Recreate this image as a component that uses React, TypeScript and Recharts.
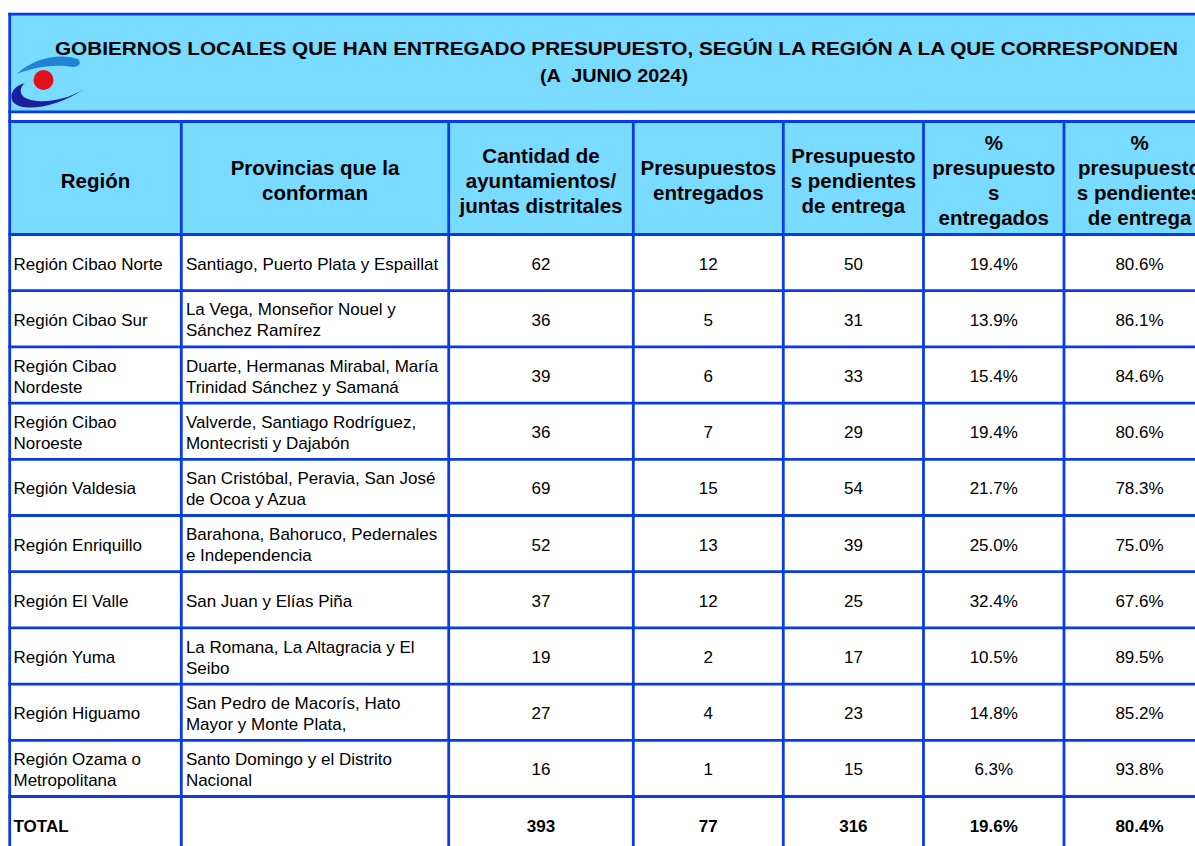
import React from 'react';
import { Surface, Layer, Rectangle, Text } from 'recharts';

// ---------- DATA ----------
const titleLines = [
  'GOBIERNOS LOCALES QUE HAN ENTREGADO PRESUPUESTO, SEGÚN LA REGIÓN A LA QUE CORRESPONDEN',
  '(A  JUNIO 2024)',
];

const headerLabels = [
  ['Región'],
  ['Provincias que la', 'conforman'],
  ['Cantidad de', 'ayuntamientos/', 'juntas distritales'],
  ['Presupuestos', 'entregados'],
  ['Presupuesto', 's pendientes', 'de entrega'],
  ['%', 'presupuesto', 's', 'entregados'],
  ['%', 'presupuesto', 's pendientes', 'de entrega'],
];

const regiones = [
  'Región Cibao Norte',
  'Región Cibao Sur',
  'Región Cibao Nordeste',
  'Región Cibao Noroeste',
  'Región Valdesia',
  'Región Enriquillo',
  'Región El Valle',
  'Región Yuma',
  'Región Higuamo',
  'Región Ozama o Metropolitana',
];

const provincias = [
  'Santiago, Puerto Plata y Espaillat',
  'La Vega, Monseñor Nouel y Sánchez Ramírez',
  'Duarte, Hermanas Mirabal, María Trinidad Sánchez y Samaná',
  'Valverde, Santiago Rodríguez, Montecristi y Dajabón',
  'San Cristóbal, Peravia, San José de Ocoa y Azua',
  'Barahona, Bahoruco, Pedernales e Independencia',
  'San Juan y Elías Piña',
  'La Romana, La Altagracia y El Seibo',
  'San Pedro de Macorís, Hato Mayor y Monte Plata,',
  'Santo Domingo y el Distrito Nacional',
];

const cantidad = [62, 36, 39, 36, 69, 52, 37, 19, 27, 16];
const entregados = [12, 5, 6, 7, 15, 13, 12, 2, 4, 1];
const pendientes = [50, 31, 33, 29, 54, 39, 25, 17, 23, 15];
const pctEntregados = [19.4, 13.9, 15.4, 19.4, 21.7, 25.0, 32.4, 10.5, 14.8, 6.3];
const pctPendientes = [80.6, 86.1, 84.6, 80.6, 78.3, 75.0, 67.6, 89.5, 85.2, 93.8];

const totalLabel = 'TOTAL';
const totalCantidad = 393;
const totalEntregados = 77;
const totalPendientes = 316;
const totalPctEntregados = 19.6;
const totalPctPendientes = 80.4;

// ---------- LAYOUT / STYLE ----------
const W = 1195;
const H = 846;
const FONT = '"Liberation Sans", Arial, Helvetica, sans-serif';
const BLUE = '#0a3ce6';
const LIGHT = '#78dbff';
const LW = 2.8;

const colEdges = [9.7, 181.3, 448.7, 633.3, 783.3, 923.5, 1064, 1215];
const titleTop = 14.2;
const titleBottom = 111.9;
const headerTop = 121.5;
const headerBottom = 234.5;
const rowH = 56.2;

const pct = (v: number) => `${v.toFixed(1)}%`;

let measureCtx: CanvasRenderingContext2D | null = null;
const measure = (s: string, size: number, weight: number) => {
  if (!measureCtx) {
    const c = document.createElement('canvas');
    measureCtx = c.getContext('2d');
  }
  if (!measureCtx) return s.length * size * 0.5;
  measureCtx.font = `${weight} ${size}px "Liberation Sans", Arial, sans-serif`;
  return measureCtx.measureText(s).width;
};

const wrap = (s: string, width: number | undefined, size: number, weight: number) => {
  if (!width) return [s];
  const words = s.split(' ');
  const lines: string[] = [];
  let cur = '';
  words.forEach((w) => {
    const trial = cur ? `${cur} ${w}` : w;
    if (cur && measure(trial, size, weight) > width) {
      lines.push(cur);
      cur = w;
    } else {
      cur = trial;
    }
  });
  if (cur) lines.push(cur);
  return lines;
};

const MultiLine = ({
  lines, x, cy, lh, size, weight, anchor,
}: { lines: string[]; x: number; cy: number; lh: number; size: number; weight: number; anchor: 'start' | 'middle' }) => (
  <Layer>
    {lines.map((ln, i) => (
      <Text
        key={i}
        x={x}
        y={cy + (i - (lines.length - 1) / 2) * lh + size * 0.37}
        textAnchor={anchor}
        fontSize={size}
        fontFamily={FONT}
        fontWeight={weight}
        fill="#000"
        style={{ whiteSpace: 'pre' }}
      >
        {ln}
      </Text>
    ))}
  </Layer>
);

const Logo = () => (
  <Layer>
    <path
      d="M17,74 C30,60 58,52 78,59 C82,63 79,67 73,67 C56,64 36,66 17,74 Z"
      fill="#1f84d8"
    />
    <path
      d="M84,89 C62,103 34,104 24,97 C19,93 20,87 25,83 C13,86 8,96 14,103 C24,112 56,108 84,89 Z"
      fill="#1b1f99"
    />
    <circle cx={43.5} cy={80} r={10} fill="#e2101b" />
  </Layer>
);

export default function App() {
  const nRows = regiones.length + 1;
  const rowEdges = Array.from({ length: nRows + 1 }, (_, i) => headerBottom + i * rowH);
  const colCenter = (c: number) => (colEdges[c] + colEdges[c + 1]) / 2;
  const rowCenter = (r: number) => (rowEdges[r] + rowEdges[r + 1]) / 2;
  const right = colEdges[colEdges.length - 1];

  const bodyRows = regiones.map((reg, i) => ({
    cells: [
      reg,
      provincias[i],
      String(cantidad[i]),
      String(entregados[i]),
      String(pendientes[i]),
      pct(pctEntregados[i]),
      pct(pctPendientes[i]),
    ],
    bold: false,
  }));
  bodyRows.push({
    cells: [
      totalLabel,
      '',
      String(totalCantidad),
      String(totalEntregados),
      String(totalPendientes),
      pct(totalPctEntregados),
      pct(totalPctPendientes),
    ],
    bold: true,
  });

  return (
    <div style={{ position: 'absolute', left: 0, top: 0, width: W, height: H, overflow: 'hidden', background: '#fff' }}>
      <Surface width={W} height={H}>
        {/* fills */}
        <Rectangle x={colEdges[0]} y={titleTop} width={right - colEdges[0]} height={titleBottom - titleTop} fill={LIGHT} />
        <Rectangle x={colEdges[0]} y={headerTop} width={right - colEdges[0]} height={headerBottom - headerTop} fill={LIGHT} />

        {/* title */}
        <text
          x={616.5}
          y={55}
          textAnchor="middle"
          fontFamily={FONT}
          fontWeight={700}
          fontSize={19}
          textLength={1123}
          lengthAdjust="spacingAndGlyphs"
          fill="#000"
        >
          {titleLines[0]}
        </text>
        <text
          x={614}
          y={82}
          textAnchor="middle"
          fontFamily={FONT}
          fontWeight={700}
          fontSize={19}
          textLength={148}
          lengthAdjust="spacingAndGlyphs"
          fill="#000"
          style={{ whiteSpace: 'pre' }}
        >
          {titleLines[1]}
        </text>
        <Logo />

        {/* header labels */}
        {headerLabels.map((lines, c) => (
          <MultiLine key={`h${c}`} lines={lines} x={colCenter(c)} cy={180} lh={25} size={20.5} weight={700} anchor="middle" />
        ))}

        {/* body */}
        {bodyRows.map((row, r) =>
          row.cells.map((val, c) => {
            if (!val) return null;
            const isText = c < 2;
            const x = c === 0 ? colEdges[0] + 3.8 : c === 1 ? colEdges[1] + 4.6 : colCenter(c);
            const width = c === 0 ? 166 : c === 1 ? 256 : undefined;
            const weight = row.bold ? 700 : 400;
            const lines = wrap(val, width, 17, weight);
            return (
              <MultiLine
                key={`b${r}-${c}`}
                lines={lines}
                x={x}
                cy={rowCenter(r) + 0.8}
                lh={21}
                size={17}
                weight={weight}
                anchor={isText ? 'start' : 'middle'}
              />
            );
          })
        )}

        {/* grid lines */}
        <Layer>
          {[titleTop, titleBottom, headerTop, headerBottom, ...rowEdges.slice(1)].map((y, i) => (
            <line key={`hl${i}`} x1={colEdges[0] - LW / 2} x2={right + LW / 2} y1={y} y2={y} stroke={BLUE} strokeWidth={LW} />
          ))}
          <line x1={colEdges[0]} x2={colEdges[0]} y1={titleTop - LW / 2} y2={H + 20} stroke={BLUE} strokeWidth={LW} />
          <line x1={right} x2={right} y1={titleTop - LW / 2} y2={H + 20} stroke={BLUE} strokeWidth={LW} />
          {colEdges.slice(1, -1).map((x, i) => (
            <line key={`vl${i}`} x1={x} x2={x} y1={headerTop} y2={H + 20} stroke={BLUE} strokeWidth={LW} />
          ))}
        </Layer>
      </Surface>
    </div>
  );
}
